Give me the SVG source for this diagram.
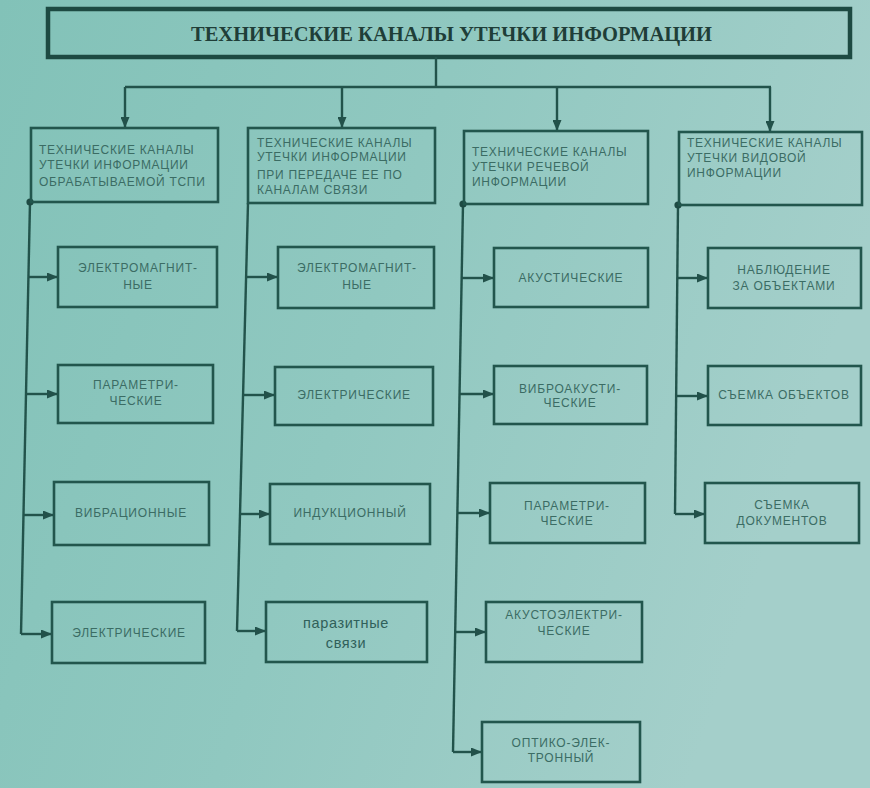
<svg xmlns="http://www.w3.org/2000/svg" width="870" height="788" viewBox="0 0 870 788">
<defs>
<linearGradient id="bg" x1="0" y1="0" x2="1" y2="0.3">
<stop offset="0" stop-color="#82c2b8"/>
<stop offset="0.5" stop-color="#90c8c0"/>
<stop offset="1" stop-color="#a4cfca"/>
</linearGradient>
<marker id="ah" markerWidth="11" markerHeight="9" refX="11" refY="4.5" orient="auto" markerUnits="userSpaceOnUse">
<path d="M0,0 L11,4.5 L0,9 Z" fill="#22514a"/>
</marker>
<style>
.box{fill:none;stroke:#22564d;stroke-width:2.6}
.title{fill:none;stroke:#1d4a42;stroke-width:4.5}
.ln{fill:none;stroke:#22534b;stroke-width:2.4}
.t{font-family:"Liberation Sans",Arial,sans-serif;font-size:12px;letter-spacing:0.8px;fill:#3b6c64;text-anchor:middle}
.h{font-family:"Liberation Sans",Arial,sans-serif;font-size:12px;letter-spacing:0.7px;fill:#3b6c64}
.big{font-family:"Liberation Sans",Arial,sans-serif;font-size:14.5px;letter-spacing:0.6px;fill:#30605a;text-anchor:middle}
.tt{font-family:"Liberation Serif","Times New Roman",serif;font-size:21px;font-weight:bold;fill:#1f3e38}
.dot{fill:#1e4a43}
</style>
</defs>
<rect x="0" y="0" width="870" height="788" fill="url(#bg)"/>

<g id="title">
<rect class="title" x="48" y="9" width="802" height="48"/>
<text class="tt" x="191" y="41" textLength="521" lengthAdjust="spacingAndGlyphs">ТЕХНИЧЕСКИЕ КАНАЛЫ УТЕЧКИ ИНФОРМАЦИИ</text>
</g>

<g id="connectors">
<path class="ln" d="M436,57 V87 M125,87 H771"/>
<path class="ln" d="M125,87 V128" marker-end="url(#ah)"/>
<path class="ln" d="M342,87 V128" marker-end="url(#ah)"/>
<path class="ln" d="M557,87 V131" marker-end="url(#ah)"/>
<path class="ln" d="M770,87 V132" marker-end="url(#ah)"/>
<path class="ln" d="M30,202 L21,634"/>
<circle class="dot" cx="30" cy="202" r="3.6"/>
<path class="ln" d="M28,277 H58" marker-end="url(#ah)"/>
<path class="ln" d="M26,394 H58" marker-end="url(#ah)"/>
<path class="ln" d="M24,515 H54" marker-end="url(#ah)"/>
<path class="ln" d="M21,634 H52" marker-end="url(#ah)"/>
<path class="ln" d="M248,203 L237,631"/>
<path class="ln" d="M246,277 H278" marker-end="url(#ah)"/>
<path class="ln" d="M243,395 H275" marker-end="url(#ah)"/>
<path class="ln" d="M240,514 H270" marker-end="url(#ah)"/>
<path class="ln" d="M237,631 H266" marker-end="url(#ah)"/>
<path class="ln" d="M463,204 L453,752"/>
<circle class="dot" cx="463" cy="204" r="3.6"/>
<path class="ln" d="M462,278 H494" marker-end="url(#ah)"/>
<path class="ln" d="M460,394 H494" marker-end="url(#ah)"/>
<path class="ln" d="M458,513 H490" marker-end="url(#ah)"/>
<path class="ln" d="M456,632 H486" marker-end="url(#ah)"/>
<path class="ln" d="M453,752 H482" marker-end="url(#ah)"/>
<path class="ln" d="M678,205 L675,514"/>
<circle class="dot" cx="678" cy="205" r="3.6"/>
<path class="ln" d="M677,278 H708" marker-end="url(#ah)"/>
<path class="ln" d="M676,396 H708" marker-end="url(#ah)"/>
<path class="ln" d="M675,514 H705" marker-end="url(#ah)"/>
</g>

<g id="cat1">
<rect class="box" x="31" y="128" width="187" height="74"/>
<text class="h" x="39" y="154">ТЕХНИЧЕСКИЕ КАНАЛЫ</text>
<text class="h" x="39" y="169">УТЕЧКИ ИНФОРМАЦИИ</text>
<text class="h" x="39" y="186">ОБРАБАТЫВАЕМОЙ ТСПИ</text>
</g>
<g id="cat2">
<rect class="box" x="248" y="128" width="187" height="75"/>
<text class="h" x="257" y="147">ТЕХНИЧЕСКИЕ КАНАЛЫ</text>
<text class="h" x="257" y="161">УТЕЧКИ ИНФОРМАЦИИ</text>
<text class="h" x="257" y="179">ПРИ ПЕРЕДАЧЕ ЕЕ ПО</text>
<text class="h" x="257" y="194">КАНАЛАМ  СВЯЗИ</text>
</g>
<g id="cat3">
<rect class="box" x="464" y="131" width="184" height="73"/>
<text class="h" x="472" y="156">ТЕХНИЧЕСКИЕ КАНАЛЫ</text>
<text class="h" x="472" y="171">УТЕЧКИ РЕЧЕВОЙ</text>
<text class="h" x="472" y="186">ИНФОРМАЦИИ</text>
</g>
<g id="cat4">
<rect class="box" x="679" y="132" width="183" height="73"/>
<text class="h" x="687" y="147">ТЕХНИЧЕСКИЕ КАНАЛЫ</text>
<text class="h" x="687" y="162">УТЕЧКИ ВИДОВОЙ</text>
<text class="h" x="687" y="177">ИНФОРМАЦИИ</text>
</g>

<g id="c1n1"><rect class="box" x="58" y="247" width="159" height="60"/>
<text class="t" x="138" y="272">ЭЛЕКТРОМАГНИТ-</text><text class="t" x="138" y="289">НЫЕ</text></g>
<g id="c1n2"><rect class="box" x="58" y="365" width="155" height="58"/>
<text class="t" x="136" y="389">ПАРАМЕТРИ-</text><text class="t" x="136" y="405">ЧЕСКИЕ</text></g>
<g id="c1n3"><rect class="box" x="54" y="482" width="155" height="63"/>
<text class="t" x="131" y="517">ВИБРАЦИОННЫЕ</text></g>
<g id="c1n4"><rect class="box" x="52" y="602" width="153" height="61"/>
<text class="t" x="129" y="637">ЭЛЕКТРИЧЕСКИЕ</text></g>

<g id="c2n1"><rect class="box" x="278" y="247" width="156" height="61"/>
<text class="t" x="357" y="272">ЭЛЕКТРОМАГНИТ-</text><text class="t" x="357" y="289">НЫЕ</text></g>
<g id="c2n2"><rect class="box" x="275" y="367" width="158" height="58"/>
<text class="t" x="354" y="399">ЭЛЕКТРИЧЕСКИЕ</text></g>
<g id="c2n3"><rect class="box" x="270" y="484" width="160" height="60"/>
<text class="t" x="350" y="517">ИНДУКЦИОННЫЙ</text></g>
<g id="c2n4"><rect class="box" x="266" y="602" width="161" height="60"/>
<text class="big" x="346" y="628">паразитные</text><text class="big" x="346" y="648">связи</text></g>

<g id="c3n1"><rect class="box" x="494" y="248" width="154" height="59"/>
<text class="t" x="571" y="282">АКУСТИЧЕСКИЕ</text></g>
<g id="c3n2"><rect class="box" x="494" y="366" width="153" height="58"/>
<text class="t" x="570" y="393">ВИБРОАКУСТИ-</text><text class="t" x="570" y="407">ЧЕСКИЕ</text></g>
<g id="c3n3"><rect class="box" x="490" y="483" width="155" height="60"/>
<text class="t" x="567" y="510">ПАРАМЕТРИ-</text><text class="t" x="567" y="525">ЧЕСКИЕ</text></g>
<g id="c3n4"><rect class="box" x="486" y="602" width="156" height="60"/>
<text class="t" x="564" y="619">АКУСТОЭЛЕКТРИ-</text><text class="t" x="564" y="635">ЧЕСКИЕ</text></g>
<g id="c3n5"><rect class="box" x="482" y="722" width="158" height="60"/>
<text class="t" x="561" y="747">ОПТИКО-ЭЛЕК-</text><text class="t" x="561" y="762">ТРОННЫЙ</text></g>

<g id="c4n1"><rect class="box" x="708" y="248" width="153" height="60"/>
<text class="t" x="784" y="274">НАБЛЮДЕНИЕ</text><text class="t" x="784" y="290">ЗА ОБЪЕКТАМИ</text></g>
<g id="c4n2"><rect class="box" x="708" y="366" width="153" height="59"/>
<text class="t" x="784" y="399">СЪЕМКА ОБЪЕКТОВ</text></g>
<g id="c4n3"><rect class="box" x="705" y="483" width="154" height="60"/>
<text class="t" x="782" y="509">СЪЕМКА</text><text class="t" x="782" y="525">ДОКУМЕНТОВ</text></g>
</svg>
